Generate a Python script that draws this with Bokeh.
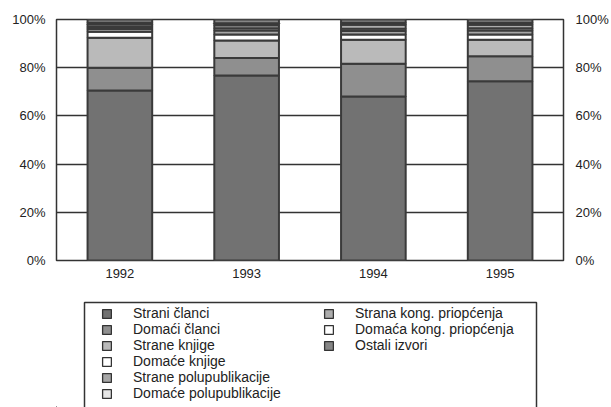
from bokeh.plotting import figure
from bokeh.layouts import column
from bokeh.models import (FactorRange, Range1d, LinearAxis, FixedTicker, BoxAnnotation,
                          PrintfTickFormatter, Legend, LegendItem, ColumnDataSource)
from bokeh.embed import file_html
from bokeh.resources import INLINE

years = ["1992", "1993", "1994", "1995"]
series = ["Strani članci", "Domaći članci", "Strane knjige", "Domaće knjige",
          "Strane polupublikacije", "Domaće polupublikacije",
          "Strana kong. priopćenja", "Domaća kong. priopćenja", "Ostali izvori"]

strani_clanci = [70.5, 76.8, 68.0, 74.4]
domaci_clanci = [9.5, 7.2, 13.6, 10.4]
strane_knjige = [12.4, 7.3, 10.0, 6.8]
domace_knjige = [2.5, 2.5, 2.2, 2.2]
strane_polupublikacije = [1.2, 1.6, 1.4, 1.6]
domace_polupublikacije = [0.8, 1.0, 1.0, 1.0]
strana_kong = [1.0, 1.2, 1.6, 1.4]
domaca_kong = [0.8, 0.8, 0.8, 0.8]
ostali_izvori = [1.3, 1.6, 1.4, 1.4]

y_ticks = [0, 20, 40, 60, 80, 100]

colors = ["#727272", "#8f8f8f", "#bababa", "#ffffff", "#a6a6a6",
          "#e6e6e6", "#adadad", "#ffffff", "#868686"]

keys = ["s%d" % i for i in range(9)]
data = dict(year=years)
for k, vals in zip(keys, [strani_clanci, domaci_clanci, strane_knjige, domace_knjige,
                          strane_polupublikacije, domace_polupublikacije,
                          strana_kong, domaca_kong, ostali_izvori]):
    data[k] = vals
source = ColumnDataSource(data)

FONT = "Liberation Sans"
DARK = "#333333"

p = figure(x_range=FactorRange(*years, range_padding=0), y_range=Range1d(0, 100),
           width=611, height=296, output_backend="svg", toolbar_location=None,
           min_border_left=56, min_border_right=48, min_border_top=19,
           min_border_bottom=36)
p.outline_line_color = DARK
p.outline_line_width = 1.5
p.background_fill_color = "white"
p.border_fill_color = "white"

p.xgrid.grid_line_color = None
p.ygrid.ticker = FixedTicker(ticks=y_ticks)
p.ygrid.grid_line_color = DARK
p.ygrid.grid_line_width = 1.3

p.vbar_stack(keys, x="year", width=0.51, source=source, fill_color=colors,
             line_color="#3a3a3a", line_width=2)


def style_axis(ax, standoff):
    ax.axis_line_color = None
    ax.major_tick_line_color = None
    ax.minor_tick_line_color = None
    ax.major_tick_out = 0
    ax.major_tick_in = 0
    ax.major_label_text_font = FONT
    ax.major_label_text_font_size = "13px"
    ax.major_label_text_color = "#222222"
    ax.major_label_standoff = standoff


style_axis(p.xaxis[0], 8)
yl = p.yaxis[0]
yl.ticker = FixedTicker(ticks=y_ticks)
yl.formatter = PrintfTickFormatter(format="%d%%")
style_axis(yl, 11)
yr = LinearAxis(ticker=FixedTicker(ticks=y_ticks), formatter=PrintfTickFormatter(format="%d%%"))
style_axis(yr, 12)
p.add_layout(yr, "right")

# legend figure (its frame is aligned with the chart frame by the column layout);
# its ranges are in pixels so the legend box can be placed
p2 = figure(x_range=Range1d(0, 507), y_range=Range1d(0, 111), width=611, height=111,
            output_backend="svg", toolbar_location=None, min_border=0,
            x_axis_location=None, y_axis_location=None)
p2.outline_line_color = None
p2.xgrid.grid_line_color = None
p2.ygrid.grid_line_color = None

# hidden legend proxies (their single bar lies outside the visible range)
proxies = []
for c in colors:
    r = p2.vbar(x=[-100], top=[-100], bottom=[-101], width=1, fill_color=c,
                line_color=DARK, line_width=1.3)
    proxies.append(r)

box = BoxAnnotation(left=28, right=480, bottom=-5, top=105, fill_color=None,
                    fill_alpha=0, line_color=DARK, line_alpha=1.0, line_dash="solid",
                    line_width=1.5, level="overlay")
p2.add_layout(box)

items1 = [LegendItem(label=series[i], renderers=[proxies[i]]) for i in range(6)]
items2 = [LegendItem(label=series[i], renderers=[proxies[i]]) for i in range(6, 9)]

common = dict(orientation="vertical", padding=4, spacing=0, glyph_height=11,
              glyph_width=11, label_standoff=21,
              label_height=13, label_text_font=FONT, label_text_font_size="14px",
              label_text_color="#222222", margin=0, border_line_color=None,
              background_fill_alpha=0)

leg1 = Legend(items=items1, location=(45, 6), **common)
leg2 = Legend(items=items2, location=(267, 54), **common)
p2.add_layout(leg1)
p2.add_layout(leg2)

open("out.html", "w").write(file_html(column(p, p2, spacing=0), INLINE))
